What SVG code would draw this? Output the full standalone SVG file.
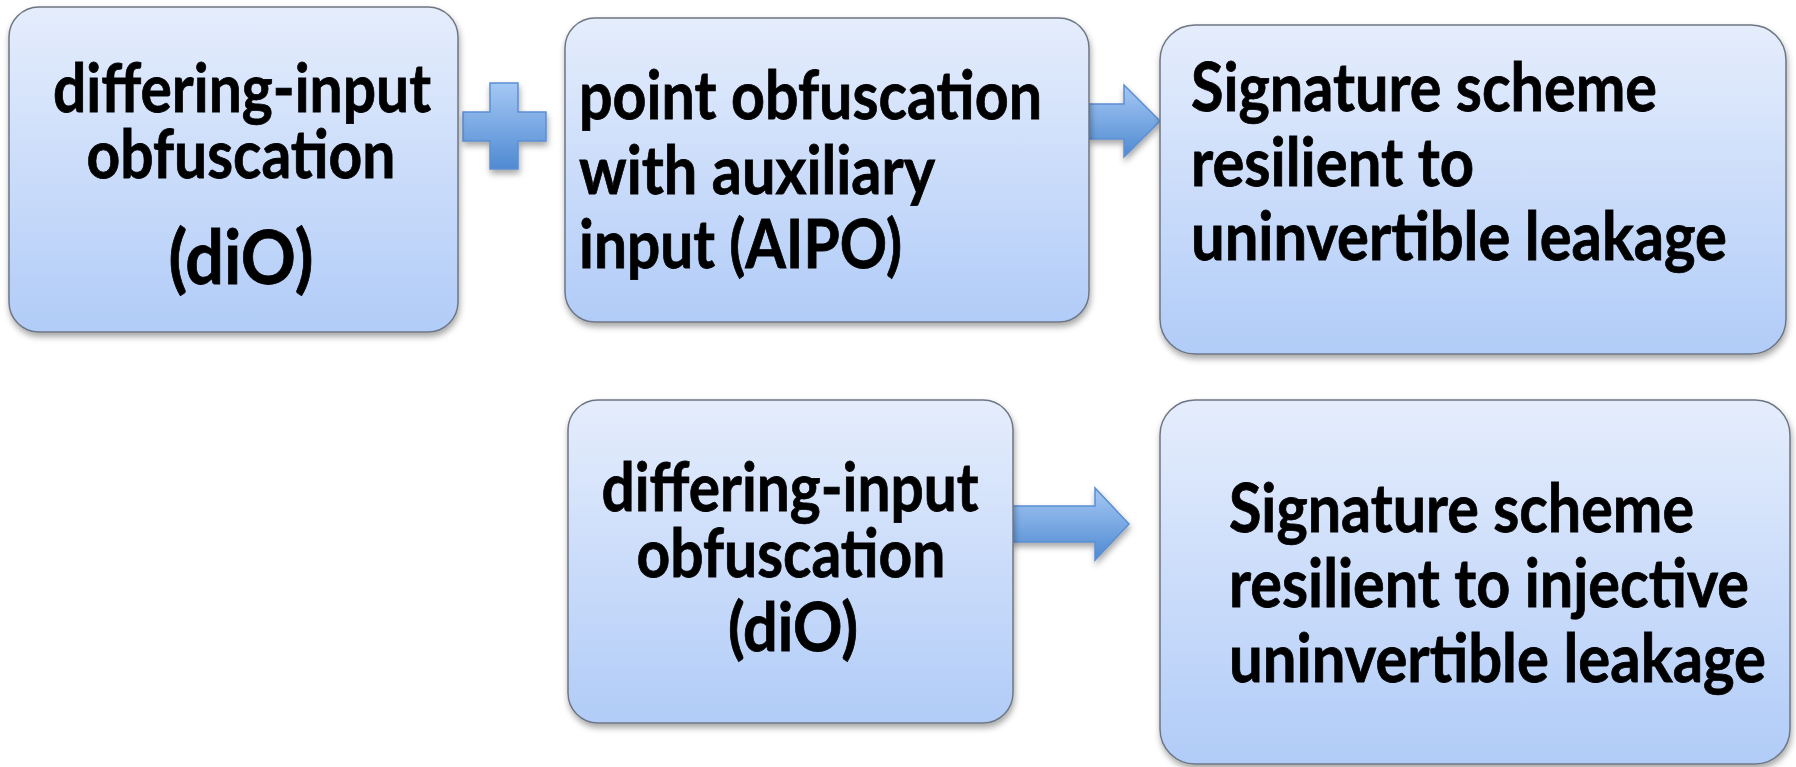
<svg xmlns="http://www.w3.org/2000/svg" width="1796" height="767" viewBox="0 0 1796 767">
<defs>
<linearGradient id="boxGrad" x1="0" y1="0" x2="0" y2="1">
<stop offset="0" stop-color="#E5EDFC"/>
<stop offset="1" stop-color="#B1CCF8"/>
</linearGradient>
<linearGradient id="arrGrad" x1="0" y1="0" x2="0" y2="1">
<stop offset="0" stop-color="#A5C8F4"/>
<stop offset="1" stop-color="#4F8AD2"/>
</linearGradient>
<filter id="shadow" x="-10%" y="-10%" width="120%" height="125%">
<feDropShadow dx="1" dy="4" stdDeviation="3" flood-color="#000" flood-opacity="0.35"/>
</filter>
</defs>
<style>
.box{fill:url(#boxGrad);stroke:#6E7683;stroke-width:1.5;filter:url(#shadow)}
.arr{fill:url(#arrGrad);stroke:#5B8ED2;stroke-width:1.5;filter:url(#shadow)}
.t{font-family:Lato,"Liberation Sans",sans-serif;font-weight:bold;font-size:67px;fill:#000;stroke:#000;stroke-width:0.8}
.big{font-size:75px}
.c{text-anchor:middle}
</style>
<rect width="1796" height="767" fill="#fff"/>
<g id="connectors">
<path id="plus" class="arr" d="M490,83 H518 V112 H546 V141 H518 V169 H490 V141 H463 V112 H490 Z"/>
<path id="arrow1" class="arr" d="M1089,104 H1124 V85 L1160,121 L1124,157 V139 H1089 Z"/>
<path id="arrow2" class="arr" d="M1011,506 H1095 V488 L1129,524 L1095,560 V542 H1011 Z"/>
</g>
<g id="node-dio-top">
<rect class="box" x="9" y="7" width="449" height="325" rx="30"/>
<text class="t c" x="242" y="112" textLength="378" lengthAdjust="spacingAndGlyphs">differing-input</text>
<text class="t c" x="241" y="178" textLength="309" lengthAdjust="spacingAndGlyphs">obfuscation</text>
<text class="t c big" x="241" y="284" textLength="145" lengthAdjust="spacingAndGlyphs">(diO)</text>
</g>
<g id="node-aipo">
<rect class="box" x="565" y="18" width="524" height="304" rx="30"/>
<text class="t" x="579" y="119" textLength="463" lengthAdjust="spacingAndGlyphs">point obfuscation</text>
<text class="t" x="579" y="194" textLength="356" lengthAdjust="spacingAndGlyphs">with auxiliary</text>
<text class="t" x="579" y="268" textLength="323" lengthAdjust="spacingAndGlyphs">input (AIPO)</text>
</g>
<g id="node-sig-top">
<rect class="box" x="1160" y="25" width="626" height="329" rx="35"/>
<text class="t" x="1191" y="111" textLength="466" lengthAdjust="spacingAndGlyphs">Signature scheme</text>
<text class="t" x="1191" y="186" textLength="283" lengthAdjust="spacingAndGlyphs">resilient to</text>
<text class="t" x="1191" y="260" textLength="536" lengthAdjust="spacingAndGlyphs">uninvertible leakage</text>
</g>
<g id="node-dio-bottom">
<rect class="box" x="568" y="400" width="445" height="323" rx="30"/>
<text class="t c" x="790" y="511" textLength="377" lengthAdjust="spacingAndGlyphs">differing-input</text>
<text class="t c" x="791" y="577" textLength="309" lengthAdjust="spacingAndGlyphs">obfuscation</text>
<text class="t c" x="793" y="651" textLength="130" lengthAdjust="spacingAndGlyphs">(diO)</text>
</g>
<g id="node-sig-bottom">
<rect class="box" x="1160" y="400" width="630" height="364" rx="35"/>
<text class="t" x="1229" y="532" textLength="465" lengthAdjust="spacingAndGlyphs">Signature scheme</text>
<text class="t" x="1229" y="607" textLength="520" lengthAdjust="spacingAndGlyphs">resilient to injective</text>
<text class="t" x="1229" y="682" textLength="537" lengthAdjust="spacingAndGlyphs">uninvertible leakage</text>
</g>
</svg>
